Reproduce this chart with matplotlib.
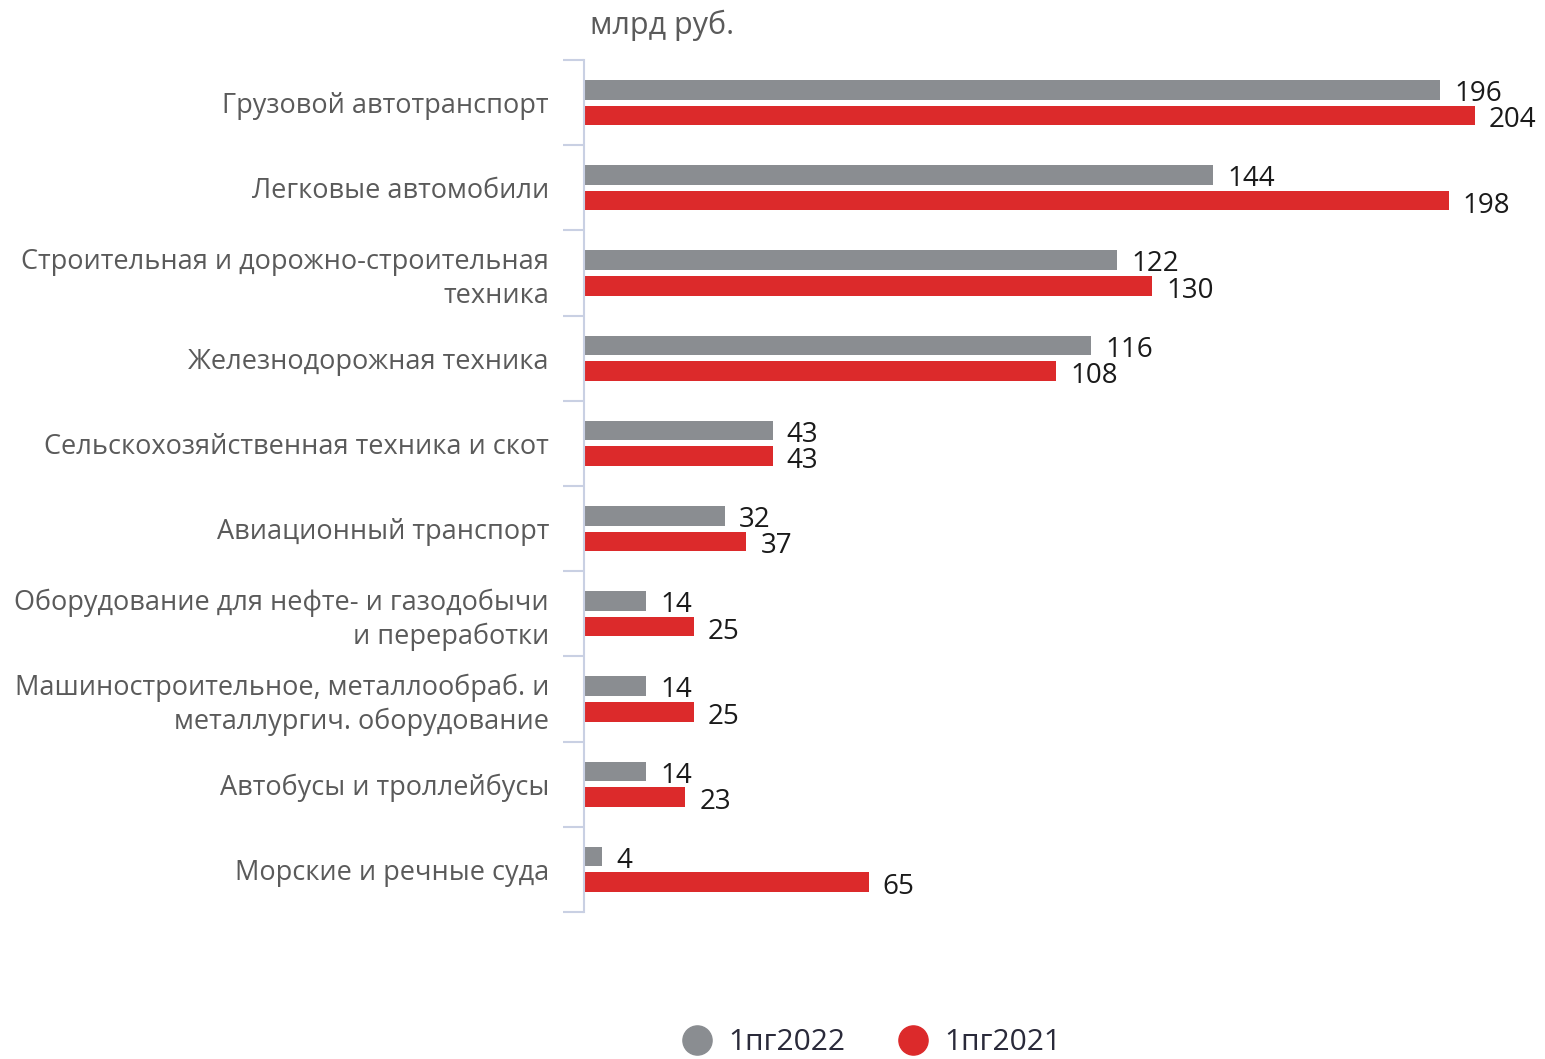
import matplotlib.pyplot as plt
from matplotlib.lines import Line2D
import numpy as np

# --- DATA ---

categories = [
    'Грузовой автотранспорт',
    'Легковые автомобили',
    'Строительная и дорожно-строительная\nтехника',
    'Железнодорожная техника',
    'Сельскохозяйственная техника и скот',
    'Авиационный транспорт',
    'Оборудование для нефте- и газодобычи\nи переработки',
    'Машиностроительное, металлообраб. и\nметаллургич. оборудование',
    'Автобусы и троллейбусы',
    'Морские и речные суда',
]
h1_2022 = [196, 144, 122, 116, 43, 32, 14, 14, 14, 4]
h1_2021 = [204, 198, 130, 108, 43, 37, 25, 25, 23, 65]
series_names = ['1пг2022', '1пг2021']

GRAY = '#8a8d91'
RED = '#dc2a2b'
LABEL_COLOR = '#5a5a5a'
SPINE_COLOR = '#c9d0e3'

plt.rcParams['font.family'] = ['Open Sans', 'DejaVu Sans']

# --- FIGURE ---

fig = plt.figure(figsize=(15.45, 10.59), dpi=100)
ax = fig.add_axes([585 / 1545, 1 - 912 / 1059, 1 - 585 / 1545, (912 - 60) / 1059])

y = np.arange(len(categories))
off = 0.15
h = 0.23
ax.barh(y - off, h1_2022, height=h, color=GRAY)
ax.barh(y + off, h1_2021, height=h, color=RED)

for yi, v in zip(y, h1_2022):
    ax.annotate(str(v), (v, yi - off + 0.05), xytext=(10, 0), textcoords='offset points',
                va='center', ha='left', fontsize=20, color='#1a1a1a')
for yi, v in zip(y, h1_2021):
    ax.annotate(str(v), (v, yi + off + 0.06), xytext=(10, 0), textcoords='offset points',
                va='center', ha='left', fontsize=20, color='#1a1a1a')

ax.set_xlim(0, 220)
ax.set_ylim(len(categories) - 0.5, -0.5)

for s in ['top', 'right', 'bottom']:
    ax.spines[s].set_visible(False)
ax.spines['left'].set_color(SPINE_COLOR)
ax.spines['left'].set_linewidth(1.5)
ax.spines['left'].set_position(('outward', 1))
ax.set_xticks([])

ax.set_yticks(y)
ax.set_yticklabels(categories, fontsize=19.5, color=LABEL_COLOR, linespacing=1.25)
ax.tick_params(axis='y', which='major', length=0, pad=25)
ax.set_yticks(np.arange(-0.5, len(categories)), minor=True)
ax.tick_params(axis='y', which='minor', length=15, width=1.5, color=SPINE_COLOR)

fig.text(590 / 1545, 1 - 25 / 1059, 'млрд руб.', fontsize=22, color=LABEL_COLOR,
         ha='left', va='center')

handles = [
    Line2D([], [], marker='o', linestyle='', markersize=21, color=GRAY),
    Line2D([], [], marker='o', linestyle='', markersize=21, color=RED),
]
fig.legend(handles, series_names, loc='center', bbox_to_anchor=(868 / 1545, 1 - 1043 / 1059),
           ncol=2, frameon=False, fontsize=21.5, handletextpad=0.3, columnspacing=1.5,
           handlelength=1.5, labelcolor='#2a2a3a')

fig.savefig('out.png', dpi=100)
